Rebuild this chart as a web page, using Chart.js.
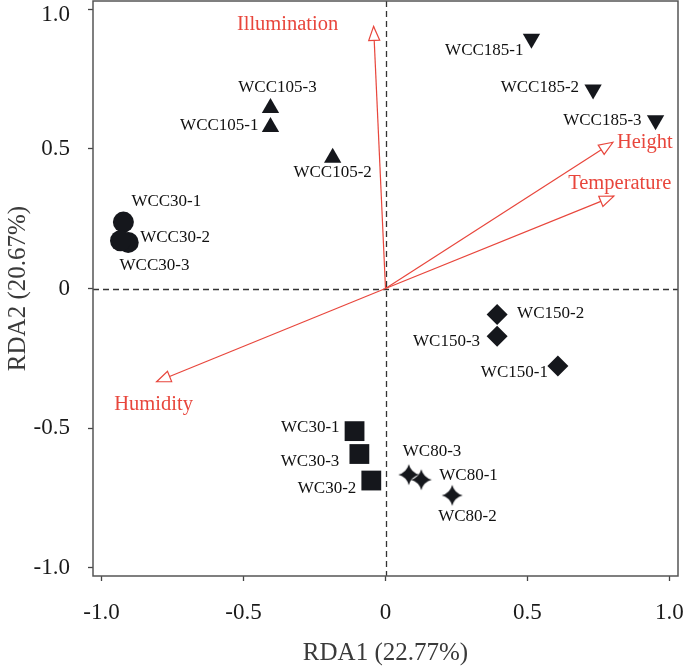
<!DOCTYPE html>
<html lang="en">
<head>
  <meta charset="UTF-8" />
  <title>RDA biplot</title>
  <script src="https://cdn.jsdelivr.net/npm/chart.js"></script>
  <style>
    html, body { margin: 0; padding: 0; background: #fff; }
    #wrap { width: 685px; height: 669px; }
  </style>
</head>
<body>
  <div id="wrap"><canvas id="rdaChart"></canvas></div>

  <script>
    // Sample scores (RDA1, RDA2)
    const sampleNames = ['WCC30-1', 'WCC30-2', 'WCC30-3',
                         'WCC105-1', 'WCC105-2', 'WCC105-3',
                         'WCC185-1', 'WCC185-2', 'WCC185-3',
                         'WC30-1', 'WC30-2', 'WC30-3',
                         'WC80-1', 'WC80-2', 'WC80-3',
                         'WC150-1', 'WC150-2', 'WC150-3'];
    const rda1Scores = [-0.923, -0.906, -0.933,
                        -0.405, -0.186, -0.405,
                         0.514,  0.731,  0.951,
                        -0.109, -0.050, -0.092,
                         0.126,  0.235,  0.082,
                         0.607,  0.393,  0.393];
    const rda2Scores = [ 0.238,  0.165,  0.171,
                         0.579,  0.468,  0.647,
                         0.895,  0.713,  0.603,
                        -0.511, -0.688, -0.593,
                        -0.685, -0.741, -0.667,
                        -0.278, -0.093, -0.171];

    // Environmental vectors
    const envNames = ['Illumination', 'Height', 'Temperature', 'Humidity'];
    const envRda1 = [-0.042, 0.801, 0.804, -0.806];
    const envRda2 = [ 0.939, 0.524, 0.331, -0.334];

    // Axes
    const tickValues = [-1, -0.5, 0, 0.5, 1];
    const xTickLabels = ['-1.0', '-0.5', '0', '0.5', '1.0'];
    const yTickLabels = ['-1.0', '-0.5', '0', '0.5', '1.0'];
    const xTitle = 'RDA1 (22.77%)';
    const yTitle = 'RDA2 (20.67%)';

    const SERIF = "'Liberation Serif', 'Times New Roman', serif";
    const MARK = '#15171c';
    const RED = '#e8463c';

    // 4-point star marker
    function makeStar() {
      const c = document.createElement('canvas');
      c.width = 24; c.height = 24;
      const g = c.getContext('2d');
      const R = 10.5, k = 2.2;
      g.translate(12, 12);
      g.beginPath();
      g.moveTo(0, -R);
      g.quadraticCurveTo(k, -k, R, 0);
      g.quadraticCurveTo(k, k, 0, R);
      g.quadraticCurveTo(-k, k, -R, 0);
      g.quadraticCurveTo(-k, -k, 0, -R);
      g.closePath();
      g.fillStyle = MARK;
      g.fill();
      return c;
    }
    const starImg = makeStar();

    const groupStyle = {
      'WCC30':  { pointStyle: 'circle',   radius: 10.5, rotation: 0 },
      'WCC105': { pointStyle: 'triangle', radius: 10,   rotation: 0 },
      'WCC185': { pointStyle: 'triangle', radius: 10,   rotation: 180 },
      'WC30':   { pointStyle: 'rect',     radius: 14,   rotation: 0 },
      'WC80':   { pointStyle: starImg,    radius: 10,   rotation: 0 },
      'WC150':  { pointStyle: 'rectRot',  radius: 10.5, rotation: 0 }
    };

    // group samples by prefix
    const groups = [];
    sampleNames.forEach((name, i) => {
      const g = name.split('-')[0];
      let ds = groups.find(d => d.group === g);
      if (!ds) {
        const st = groupStyle[g];
        ds = {
          group: g, label: g, data: [], names: [],
          pointStyle: st.pointStyle, pointRadius: st.radius, pointRotation: st.rotation,
          backgroundColor: MARK, borderColor: MARK, borderWidth: 0,
          pointHoverRadius: st.radius, order: 0
        };
        groups.push(ds);
      }
      ds.data.push({ x: rda1Scores[i], y: rda2Scores[i] });
      ds.names.push(name);
    });

    const arrows = envNames.map((name, i) => ({
      label: name, isArrow: true,
      data: [{ x: 0, y: 0 }, { x: envRda1[i], y: envRda2[i] }],
      showLine: true, borderColor: RED, borderWidth: 1.2,
      pointRadius: 0, pointHoverRadius: 0, order: 5
    }));

    // label placement relative to marker: [dx, dy, align]
    const labelPlacement = {
      'WCC30-1': [8, -21, 'left'],   'WCC30-2': [12, -5, 'left'],   'WCC30-3': [-1, 25, 'left'],
      'WCC105-1': [-12, -1.5, 'right'], 'WCC105-2': [0, 15, 'center'], 'WCC105-3': [7, -20, 'center'],
      'WCC185-1': [-8, 11.5, 'right'], 'WCC185-2': [-14, -1.5, 'right'], 'WCC185-3': [-14, 0, 'right'],
      'WC30-1': [-15, -4, 'right'],  'WC30-2': [-15, 8, 'right'],   'WC30-3': [-20, 8, 'right'],
      'WC80-1': [18, -4, 'left'],    'WC80-2': [-14, 21, 'left'],   'WC80-3': [-6, -23, 'left'],
      'WC150-1': [-10, 6, 'right'],  'WC150-2': [20, -1, 'left'],   'WC150-3': [-17, 5, 'right']
    };
    const envPlacement = {
      'Illumination': [-86, -2, 'center'],
      'Height': [4, 0, 'left'],
      'Temperature': [6, -12, 'center'],
      'Humidity': [-3, 23, 'center']
    };

    const framePlugin = {
      id: 'frame',
      beforeDatasetsDraw(chart) {
        const { ctx, chartArea: a, scales: { x, y } } = chart;
        ctx.save();
        ctx.strokeStyle = '#333';
        ctx.lineWidth = 1.3;
        ctx.setLineDash([6, 4]);
        const x0 = Math.round(x.getPixelForValue(0)) + 0.5;
        const y0 = Math.round(y.getPixelForValue(0)) + 0.5;
        ctx.beginPath();
        ctx.moveTo(x0, a.top); ctx.lineTo(x0, a.bottom);
        ctx.moveTo(a.left, y0); ctx.lineTo(a.right, y0);
        ctx.stroke();
        ctx.setLineDash([]);
        ctx.strokeStyle = '#555';
        ctx.lineWidth = 1.5;
        ctx.strokeRect(a.left, a.top, a.right - a.left, a.bottom - a.top);

        // tick labels (drawn here so they can overflow the plot edges)
        ctx.font = '23px ' + SERIF;
        ctx.fillStyle = '#1a1a1a';
        ctx.textBaseline = 'middle';
        ctx.textAlign = 'right';
        tickValues.forEach((v, i) => {
          const py = Math.max(y.getPixelForValue(v), 15);
          ctx.fillText(yTickLabels[i], a.left - 23, py);
        });
        ctx.textAlign = 'center';
        tickValues.forEach((v, i) => {
          ctx.fillText(xTickLabels[i], x.getPixelForValue(v), a.bottom + 37);
        });
        ctx.restore();
      },
      afterDatasetsDraw(chart) {
        const { ctx } = chart;
        ctx.save();
        chart.data.datasets.forEach((ds, di) => {
          const meta = chart.getDatasetMeta(di);
          if (ds.isArrow) {
            const p0 = meta.data[0], p1 = meta.data[1];
            const ang = Math.atan2(p1.y - p0.y, p1.x - p0.x);
            const L = 14, W = 5.5;
            const bx = p1.x - L * Math.cos(ang), by = p1.y - L * Math.sin(ang);
            ctx.beginPath();
            ctx.moveTo(p1.x, p1.y);
            ctx.lineTo(bx + W * Math.sin(ang), by - W * Math.cos(ang));
            ctx.lineTo(bx - W * Math.sin(ang), by + W * Math.cos(ang));
            ctx.closePath();
            ctx.fillStyle = '#fff';
            ctx.fill();
            ctx.strokeStyle = RED;
            ctx.lineWidth = 1.2;
            ctx.stroke();
            const pl = envPlacement[ds.label];
            ctx.font = '20.5px ' + SERIF;
            ctx.fillStyle = RED;
            ctx.textAlign = pl[2];
            ctx.textBaseline = 'middle';
            ctx.fillText(ds.label, p1.x + pl[0], p1.y + pl[1]);
          } else {
            ctx.font = '17px ' + SERIF;
            ctx.fillStyle = '#111';
            ctx.textBaseline = 'middle';
            meta.data.forEach((pt, i) => {
              const name = ds.names[i];
              const pl = labelPlacement[name];
              ctx.textAlign = pl[2];
              ctx.fillText(name, pt.x + pl[0], pt.y + pl[1]);
            });
          }
        });
        ctx.restore();
      }
    };

    function axis(title, isX) {
      return {
        type: 'linear',
        min: -1.03,
        max: 1.03,
        afterBuildTicks(scale) { scale.ticks = tickValues.map(v => ({ value: v })); },
        afterFit(scale) {
          if (isX) scale.height = 93; else scale.width = 93;
        },
        grid: { display: true, drawOnChartArea: false, drawTicks: true, tickLength: 5, tickColor: '#444', tickWidth: 1.3 },
        border: { display: false },
        ticks: { display: false },
        title: {
          display: true, text: title, color: '#3a3a3a',
          font: { family: SERIF, size: 25 },
          padding: isX ? { top: 0, bottom: 1 } : { top: 3, bottom: 0 }
        }
      };
    }

    new Chart(document.getElementById('rdaChart'), {
      type: 'scatter',
      data: { datasets: [...groups, ...arrows] },
      options: {
        responsive: true,
        maintainAspectRatio: false,
        animation: false,
        clip: false,
        layout: { autoPadding: false, padding: { top: 1, right: 7, left: 0, bottom: 0 } },
        plugins: { legend: { display: false }, tooltip: { enabled: false } },
        scales: {
          x: axis(xTitle, true),
          y: axis(yTitle, false)
        }
      },
      plugins: [framePlugin]
    });
  </script>
</body>
</html>
